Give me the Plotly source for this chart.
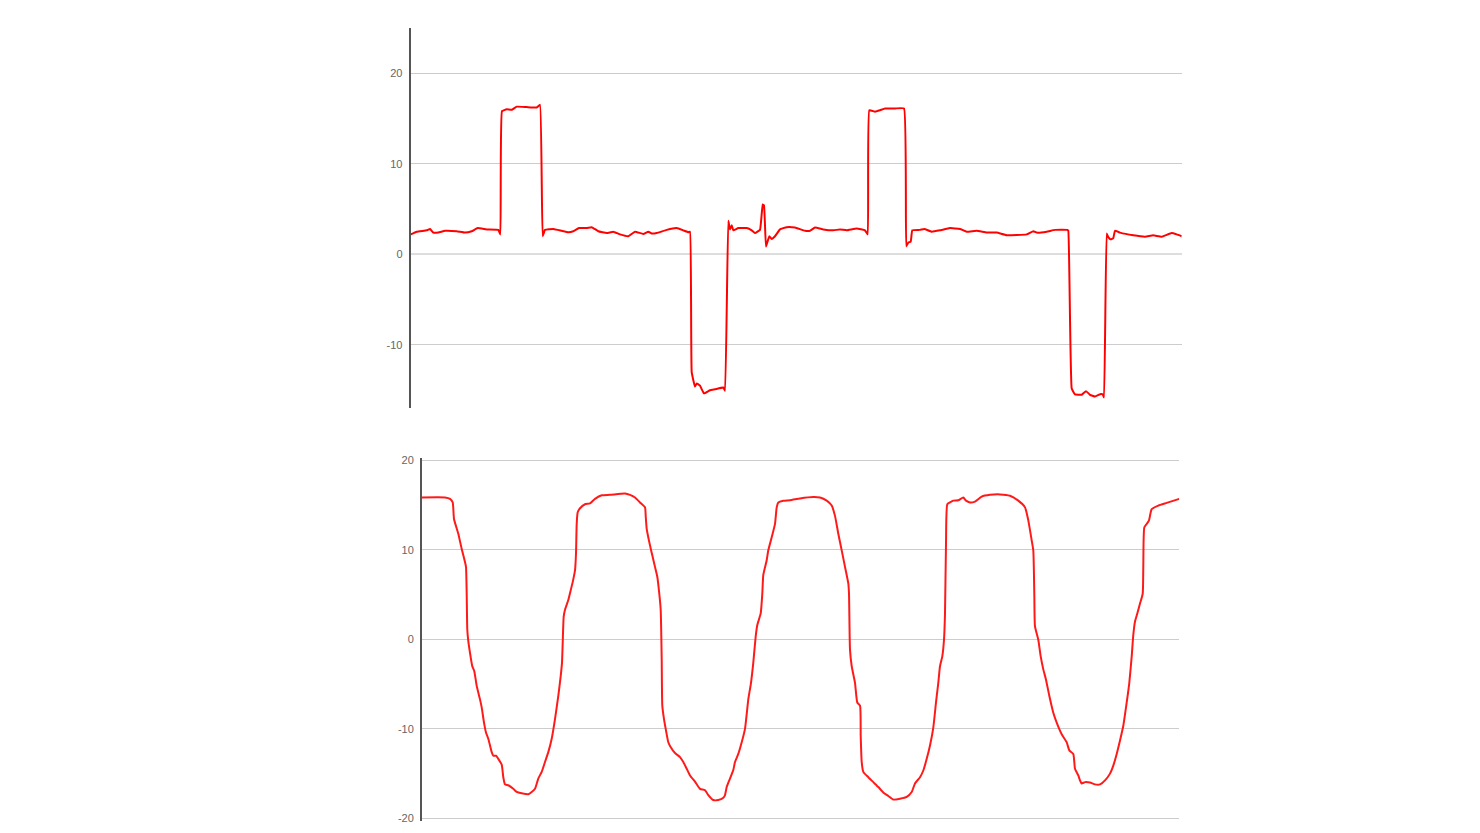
import plotly.graph_objects as go

# ---- Top panel: square-pulse signal ----
top_t = [0, 6, 16, 19.3, 22.6, 27.6, 34.3, 46, 54.3, 61, 67, 76, 87.6, 89.6, 91.3, 96, 101, 106, 116, 126,
         129.3, 132, 134.3, 142.6, 151, 157.6, 162.6, 168.3, 176, 181, 187.6, 196, 202.6, 209.3, 217.6,
         224.3, 232.6, 237.6, 241, 246, 256, 266, 272.6, 277.6, 279.3, 281, 284.3, 286, 289.3, 293.3,
         299.3, 304.3, 312.6, 314.3, 317.6, 319.3, 321, 322.6, 327.6, 336, 341, 344.3, 349.3, 352,
         353.3, 355.3, 358.6, 361, 364.3, 369.3, 376, 384.3, 394.3, 399.3, 404.3, 412.6, 422.6, 429.3,
         436, 446, 454.3, 457, 458.6, 464.3, 469.3, 474.3, 484.3, 493.3, 495.6, 497.6, 500, 501.6,
         509.3, 513.6, 521, 529.3, 539.3, 549.3, 556, 566, 576, 586, 596, 616, 622.6, 626, 636, 644.3,
         656.6, 657.6, 661, 664.3, 671, 675.3, 679.3, 684.3, 689.3, 692, 693.3, 696, 697.6, 700,
         702.6, 704.3, 709.3, 722.6, 734.3, 742.6, 751, 761, 766, 771]
top_v = [2.2, 2.5, 2.65, 2.8, 2.4, 2.4, 2.6, 2.55, 2.4, 2.55, 2.9, 2.75, 2.7, 2.2, 15.8, 16.0, 15.95, 16.3,
         16.25, 16.2, 16.5, 2.0, 2.7, 2.8, 2.6, 2.45, 2.55, 2.9, 2.9, 3.0, 2.55, 2.35, 2.5, 2.2, 2.0,
         2.5, 2.25, 2.5, 2.3, 2.35, 2.7, 2.9, 2.65, 2.45, 2.5, -13.0, -14.6, -14.25, -14.5, -15.35,
         -15.0, -14.9, -14.7, -15.05, 3.7, 2.75, 3.2, 2.65, 2.9, 2.9, 2.65, 2.35, 2.7, 5.5,
         5.4, 0.85, 2.0, 1.7, 2.0, 2.75, 3.0, 2.95, 2.6, 2.6, 2.95, 2.75, 2.65, 2.75,
         2.65, 2.85, 2.65, 2.2, 15.9, 15.75, 15.9, 16.1, 16.1, 16.1, 0.9, 1.3, 1.4, 2.65,
         2.7, 2.8, 2.5, 2.65, 2.9, 2.8, 2.5, 2.6, 2.4, 2.4, 2.1, 2.2, 2.55, 2.4, 2.5, 2.7,
         2.7, 2.6, -14.8, -15.45, -15.5, -15.1, -15.5, -15.7, -15.45, -15.45, -15.8, 2.3, 1.9, 1.65,
         1.8, 2.6, 2.4, 2.1, 1.95, 2.1, 1.95, 2.35, 2.2, 2.0]

# ---- Bottom panel: smooth oscillating signal ----
bot_t = [0, 23, 28, 30.7, 32, 36.3, 39.7, 43, 44, 44.7, 45.3, 46.3, 48, 50.3, 52.3, 54.7, 58, 59.7, 62, 64,
         66.3, 69.7, 71.3, 74, 76.3, 79.7, 81.3, 83, 86.3, 91.3, 94.7, 99.7, 106.3, 109.7, 113, 116.3,
         119.7, 123, 126.3, 129.7, 133, 136.3, 138.7, 140, 140.7, 141.7, 143, 146.3, 148.7, 150.7, 153,
         154, 154.7, 155.7, 158, 163, 168, 173, 179.7, 188, 203, 208, 213, 218, 223, 223.7, 224.7, 228,
         230.7, 233, 235.3, 237.3, 238.7, 239.7, 240.3, 242, 243.7, 246.3, 248, 253, 258, 261.3, 264.7,
         268, 273, 278, 283, 286.3, 291.3, 296.3, 301.3, 303, 304.7, 308, 311.3, 313, 316.3, 319.7,
         323, 326.3, 329, 331.3, 333.7, 335.3, 338.7, 340.3, 341.3, 344.7, 346.3, 349.7, 353, 354.7,
         356.3, 361.3, 368, 378, 391.3, 398, 404.7, 409.7, 413, 416.3, 419.7, 423, 426.3, 427, 428,
         429.7, 433, 435.3, 438, 438.7, 439.7, 441.3, 446.3, 451.3, 456.3, 461.3, 466.3, 471.3, 478,
         484.7, 489.7, 493, 498, 501.3, 504.7, 508, 511.3, 514, 516.3, 518, 520.3, 522, 523, 524,
         525.3, 528, 531.3, 536.3, 541.3, 544, 548, 553, 559.7, 568, 578, 588, 596.3, 603, 606.3,
         609.7, 611.3, 612.3, 613, 616.3, 618.7, 621.3, 624, 627.3, 631.3, 634.7, 639.7, 644.7, 647.3,
         651.3, 653, 656.3, 658, 659.7, 663, 668, 673, 678, 683, 688, 691.3, 694.7, 698, 701.3, 704.7,
         707.3, 709.7, 711.3, 713, 715.3, 718, 720.7, 721.3, 722.3, 724.7, 727, 729.7, 736.3, 744.7,
         757.3]
bot_v = [15.86, 15.86, 15.7, 15.3, 13.45, 11.8, 10.1, 8.65, 8.1, 5.1, 1.07, -0.2, -1.5, -3.0, -3.55, -5.2,
         -6.7, -7.6, -9.3, -10.4, -11.1, -12.6, -13.0, -13.0, -13.35, -14.0, -15.4, -16.2, -16.3, -16.7,
         -17.05, -17.2, -17.3, -17.05, -16.7, -15.55, -14.8, -13.7, -12.6, -11.1, -8.9, -6.3, -4.1, -2.6,
         -0.4, 2.55, 3.3, 4.4, 5.5, 6.4, 7.7, 9.6, 12.9, 14.2, 14.65, 15.1, 15.2, 15.7, 16.1, 16.15,
         16.3, 16.15, 15.85, 15.3, 14.75, 13.8, 12.35, 10.5, 9.2, 8.1, 7.0, 5.1, 3.3, -2.25, -7.4, -8.9,
         -10.0, -11.5, -11.9, -12.7, -13.15, -13.7, -14.45, -15.2, -15.9, -16.7, -16.85, -17.4, -17.95,
         -17.95, -17.7, -17.4, -16.5, -15.55, -14.6, -13.7, -12.8, -11.5, -10.0, -6.7, -4.85, -2.6, 0.33,
         1.6, 2.9, 5.1, 7.2, 8.85, 9.95, 11.4, 12.9, 14.75, 15.3, 15.5, 15.55, 15.75, 15.9, 15.85, 15.5,
         14.95, 13.8, 11.8, 9.95, 8.1, 6.25, 5.1, -1.15, -3.0, -4.85, -7.05, -7.4, -10.75, -13.7, -14.8,
         -15.4, -15.95, -16.5, -17.1, -17.5, -17.9, -17.8, -17.6, -17.05, -16.1, -15.4, -14.65, -13.35,
         -11.85, -9.85, -7.05, -4.85, -3.0, -1.9, -0.04, 2.9, 10.7, 15.1, 15.3, 15.5, 15.55, 15.85, 15.5,
         15.3, 15.4, 15.95, 16.15, 16.2, 16.05, 15.5, 14.75, 13.3, 11.05, 9.95, 5.1, 1.44, -0.04, -1.9,
         -3.35, -4.5, -6.3, -8.2, -9.3, -10.6, -11.5, -12.4, -12.8, -14.45, -15.2, -15.75, -16.1, -15.95,
         -16.0, -16.2, -16.2, -15.75, -15.0, -14.1, -12.8, -11.3, -9.65, -7.05, -4.85, -1.9, 0.5, 2.0,
         2.9, 4.0, 5.1, 8.1, 12.5, 12.9, 13.3, 14.55, 14.95, 15.25, 15.7]

top_ticks = [-10, 0, 10, 20]
bot_ticks = [-20, -10, 0, 10, 20]

W, H = 1480, 833
fig = go.Figure()
fig.add_trace(go.Scatter(x=top_t, y=top_v, mode="lines",
                         line=dict(color="#ff0000", width=2, shape="spline", smoothing=0.3),
                         xaxis="x", yaxis="y", showlegend=False, hoverinfo="skip"))
fig.add_trace(go.Scatter(x=bot_t, y=bot_v, mode="lines",
                         line=dict(color="#ff1a1a", width=2, shape="spline", smoothing=0.5),
                         xaxis="x2", yaxis="y2", showlegend=False, hoverinfo="skip"))

tickfont = dict(family="Liberation Sans, Arial, sans-serif", size=11, color="#666666")

fig.update_layout(
    width=W, height=H,
    margin=dict(l=0, r=0, t=0, b=0),
    paper_bgcolor="white", plot_bgcolor="white",
    xaxis=dict(domain=[410.7 / W, 1181.7 / W], range=[0, 771], visible=False, anchor="y"),
    yaxis=dict(domain=[1 - 408.3 / H, 1 - 25 / H], range=[-17, 25], anchor="x",
               tickvals=top_ticks, ticktext=[str(v) for v in top_ticks], tickfont=tickfont,
               showgrid=True, gridcolor="#cccccc", gridwidth=1,
               zeroline=True, zerolinecolor="#dddddd", zerolinewidth=2,
               showline=True, linecolor="#555555", linewidth=2, ticks="", ticklabelstandoff=4),
    xaxis2=dict(domain=[422 / W, 1179.3 / W], range=[0, 757.3], visible=False, anchor="y2"),
    yaxis2=dict(domain=[1 - 824 / H, 1 - 458 / H], range=[-20.3, 20.3], anchor="x2",
                tickvals=bot_ticks, ticktext=[str(v) for v in bot_ticks], tickfont=tickfont,
                showgrid=True, gridcolor="#cccccc", gridwidth=1,
                zeroline=False,
                showline=True, linecolor="#555555", linewidth=2, ticks="", ticklabelstandoff=4),
)

fig.write_html("out.html", config={"displayModeBar": False},
               post_script="document.body.style.margin='0';document.body.style.overflow='hidden';")
